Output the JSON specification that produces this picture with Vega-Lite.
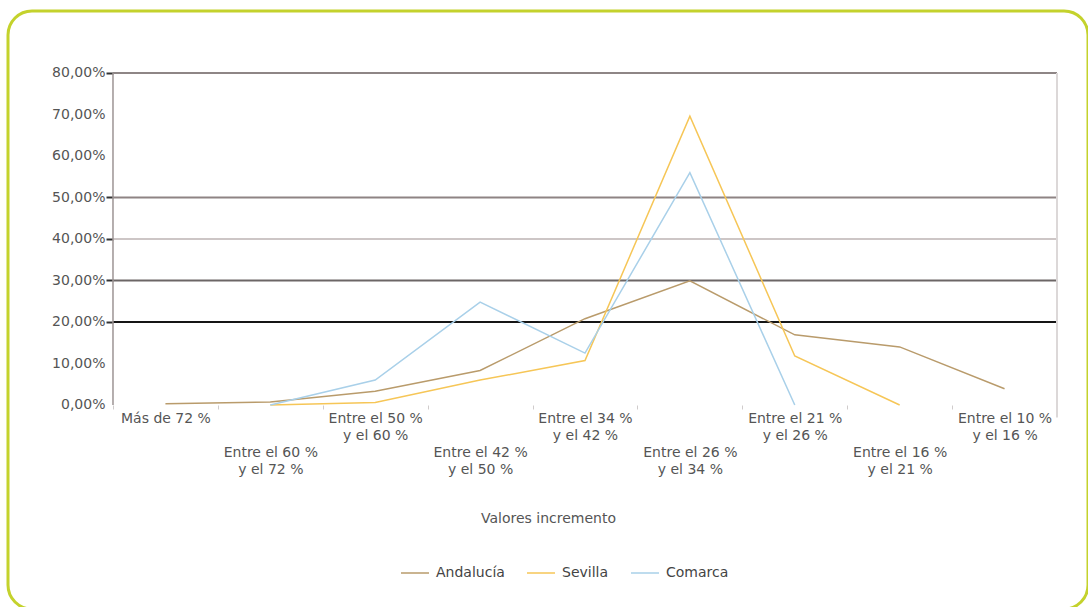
{
  "$schema": "https://vega.github.io/schema/vega-lite/v6.json",
  "width": 1080,
  "height": 598,
  "autosize": {"type": "none"},
  "padding": {"left": 8, "top": 11, "right": 0, "bottom": 0},
  "background": "white",
  "config": {
    "view": {"stroke": "#c4d22c", "strokeWidth": 3, "cornerRadius": 24},
    "font": "DejaVu Sans"
  },
  "datasets": {
    "series": [
      {"cat": "Más de 72 %", "i": 1, "serie": "Andalucía", "v": 0.3},
      {"cat": "Entre el 60 % y el 72 %", "i": 2, "serie": "Andalucía", "v": 0.7},
      {"cat": "Entre el 50 % y el 60 %", "i": 3, "serie": "Andalucía", "v": 3.3},
      {"cat": "Entre el 42 % y el 50 %", "i": 4, "serie": "Andalucía", "v": 8.3},
      {"cat": "Entre el 34 % y el 42 %", "i": 5, "serie": "Andalucía", "v": 20.8},
      {"cat": "Entre el 26 % y el 34 %", "i": 6, "serie": "Andalucía", "v": 29.9},
      {"cat": "Entre el 21 % y el 26 %", "i": 7, "serie": "Andalucía", "v": 16.9},
      {"cat": "Entre el 16 % y el 21 %", "i": 8, "serie": "Andalucía", "v": 14.0},
      {"cat": "Entre el 10 % y el 16 %", "i": 9, "serie": "Andalucía", "v": 3.9},
      {"cat": "Entre el 60 % y el 72 %", "i": 2, "serie": "Sevilla", "v": 0.0},
      {"cat": "Entre el 50 % y el 60 %", "i": 3, "serie": "Sevilla", "v": 0.6},
      {"cat": "Entre el 42 % y el 50 %", "i": 4, "serie": "Sevilla", "v": 6.0},
      {"cat": "Entre el 34 % y el 42 %", "i": 5, "serie": "Sevilla", "v": 10.7},
      {"cat": "Entre el 26 % y el 34 %", "i": 6, "serie": "Sevilla", "v": 69.6},
      {"cat": "Entre el 21 % y el 26 %", "i": 7, "serie": "Sevilla", "v": 11.8},
      {"cat": "Entre el 16 % y el 21 %", "i": 8, "serie": "Sevilla", "v": 0.0},
      {"cat": "Entre el 60 % y el 72 %", "i": 2, "serie": "Comarca", "v": 0.0},
      {"cat": "Entre el 50 % y el 60 %", "i": 3, "serie": "Comarca", "v": 6.0},
      {"cat": "Entre el 42 % y el 50 %", "i": 4, "serie": "Comarca", "v": 24.8},
      {"cat": "Entre el 34 % y el 42 %", "i": 5, "serie": "Comarca", "v": 12.5},
      {"cat": "Entre el 26 % y el 34 %", "i": 6, "serie": "Comarca", "v": 56.0},
      {"cat": "Entre el 21 % y el 26 %", "i": 7, "serie": "Comarca", "v": 0.0}
    ],
    "grid": [{"g": 80}, {"g": 50}, {"g": 40}, {"g": 30}, {"g": 20}]
  },
  "layer": [
    {
      "data": {"name": "grid"},
      "mark": {"type": "rule"},
      "encoding": {
        "x": {"datum": "Más de 72 %", "type": "nominal", "bandPosition": 0},
        "x2": {"datum": "Entre el 10 % y el 16 %", "bandPosition": 1},
        "y": {"field": "g", "type": "quantitative"},
        "stroke": {"field": "g", "type": "ordinal", "legend": null,
          "scale": {"domain": [80, 50, 40, 30, 20], "range": ["#8e8686", "#8e8484", "#cdc6c6", "#6c6666", "#151515"]}},
        "strokeWidth": {"field": "g", "type": "ordinal", "legend": null,
          "scale": {"domain": [80, 50, 40, 30, 20], "range": [2, 2, 1.5, 2, 2.5]}}
      }
    },
    {
      "data": {"values": [{"a": 0}]},
      "mark": {"type": "rule", "stroke": "#9d9494", "strokeWidth": 1.5},
      "encoding": {
        "x": {"datum": "Más de 72 %", "type": "nominal", "bandPosition": 0},
        "y": {"datum": 0, "type": "quantitative"},
        "y2": {"datum": 80}
      }
    },
    {
      "data": {"values": [{"a": 0}]},
      "mark": {"type": "rule", "stroke": "#dcd8d8", "strokeWidth": 2},
      "encoding": {
        "x": {"datum": "Entre el 10 % y el 16 %", "type": "nominal", "bandPosition": 1},
        "y": {"datum": -3, "type": "quantitative"},
        "y2": {"datum": 80}
      }
    },
    {
      "data": {"name": "series"},
      "mark": {"type": "line", "strokeWidth": 1.5},
      "encoding": {
        "x": {
          "field": "cat", "type": "nominal",
          "scale": {
            "type": "band",
            "domain": ["Más de 72 %", "Entre el 60 % y el 72 %", "Entre el 50 % y el 60 %", "Entre el 42 % y el 50 %", "Entre el 34 % y el 42 %", "Entre el 26 % y el 34 %", "Entre el 21 % y el 26 %", "Entre el 16 % y el 21 %", "Entre el 10 % y el 16 %"],
            "paddingInner": 0, "paddingOuter": 0.6483, "align": 0.772
          },
          "axis": {
            "orient": "bottom", "offset": -204, "domain": false, "grid": false,
            "tickBand": "extent", "tickSize": 4, "tickColor": "#d0cccc", "tickWidth": 1,
            "labelAngle": 0, "labelAlign": "center", "labelBaseline": "top",
            "labelPadding": {"condition": {"test": "indexof(['Entre el 60 % y el 72 %','Entre el 42 % y el 50 %','Entre el 26 % y el 34 %','Entre el 16 % y el 21 %'], datum.value) >= 0", "value": 36}, "value": 2},
            "labelFontSize": 14, "labelLineHeight": 17, "labelColor": "#555555",
            "labelOverlap": false, "labelBound": false, "labelLimit": 300, "labelFlush": false,
            "labelExpr": "datum.value ? split(replace(datum.value, ' y el ', '|y el '), '|') : ''",
            "title": "Valores incremento", "titleFontSize": 14, "titleFontWeight": "normal",
            "titleColor": "#555555", "titlePadding": 35
          }
        },
        "y": {
          "field": "v", "type": "quantitative",
          "scale": {"domain": [-49.16, 94.94], "nice": false, "zero": false},
          "axis": {
            "orient": "left", "offset": -105, "domain": false, "grid": false,
            "values": [0, 10, 20, 30, 40, 50, 60, 70, 80],
            "tickSize": 7, "tickWidth": 2,
            "tickColor": {"condition": {"test": "indexof([20, 30, 40, 50, 80], datum.value) >= 0", "value": "#333333"}, "value": "rgba(0,0,0,0)"},
            "labelPadding": 1, "labelFontSize": 14, "labelColor": "#555555",
            "labelExpr": "replace(format(datum.value, '.2f'), '.', ',') + '%'",
            "title": null
          }
        },
        "color": {
          "field": "serie", "type": "nominal",
          "scale": {"domain": ["Andalucía", "Sevilla", "Comarca"], "range": ["#b99b6b", "#f6c657", "#a9d0e9"]},
          "legend": {
            "orient": "none", "legendX": 392, "legendY": 547, "direction": "horizontal",
            "title": null, "symbolType": "stroke", "symbolSize": 784, "symbolStrokeWidth": 1.5,
            "labelFontSize": 14, "labelColor": "#444444", "labelOffset": 6, "columnPadding": 19
          }
        },
        "order": {"field": "i", "type": "quantitative"}
      }
    }
  ]
}
